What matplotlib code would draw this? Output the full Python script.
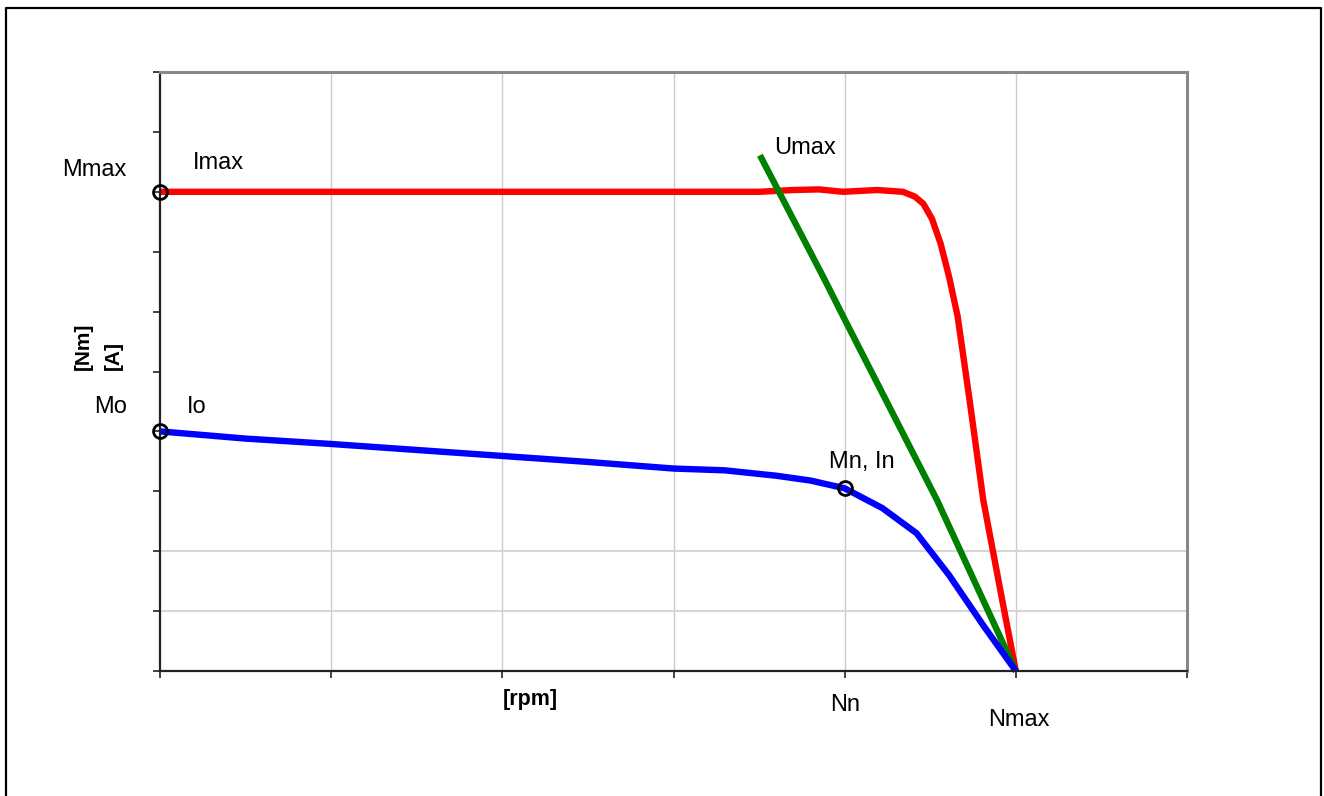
import matplotlib
matplotlib.use("Agg")
import matplotlib.pyplot as plt
from matplotlib.lines import Line2D

plt.rcParams['font.family'] = ['Liberation Sans', 'DejaVu Sans']

# current limit curve (Imax)
red_x = [0.0, 3.50, 3.70, 3.85, 3.99, 4.19, 4.34, 4.41, 4.46, 4.51, 4.56, 4.61, 4.66, 4.73, 4.81, 4.92, 5.0]
red_y = [8.0, 8.00, 8.03, 8.04, 8.00, 8.03, 8.00, 7.92, 7.80, 7.55, 7.14, 6.58, 5.92, 4.52, 2.85, 1.19, 0.0]

# voltage limit (Umax)
green_x = [3.505, 3.88, 4.0, 4.54, 5.0]
green_y = [8.61, 6.55, 5.87, 2.85, 0.0]

# load curve from Mo through Mn to Nmax
blue_x = [0.0, 0.5, 1.0, 1.5, 2.0, 2.5, 3.0, 3.3, 3.6, 3.8, 4.0, 4.22, 4.42, 4.61, 4.81, 5.0]
blue_y = [4.0, 3.88, 3.79, 3.69, 3.59, 3.49, 3.38, 3.35, 3.26, 3.18, 3.05, 2.72, 2.30, 1.60, 0.76, 0.0]

# marked points: Imax, Io, Mn/In
mark_x = [0.0, 0.0, 4.0]
mark_y = [8.0, 4.0, 3.05]

fig = plt.figure(figsize=(13.24, 7.96), dpi=100)
ax = fig.add_axes([160 / 1324, 1 - 671 / 796, (1187 - 160) / 1324, (671 - 72) / 796])

# outer frame (open at the bottom)
frame = Line2D([6 / 1324, 6 / 1324, 1321 / 1324, 1321 / 1324],
               [-0.1, 1 - 8 / 796, 1 - 8 / 796, -0.1],
               transform=fig.transFigure, color='black', lw=1.6)
fig.add_artist(frame)

ax.set_xlim(0, 6)
ax.set_ylim(0, 10)
ax.set_xticks(range(7))
ax.set_yticks(range(11))
ax.set_xticklabels([])
ax.set_yticklabels([])
ax.tick_params(direction='out', length=5, width=1.2, color='#222222')

for x in range(1, 6):
    ax.axvline(x, color='#cccccc', lw=1, zorder=0)
for y in (1, 2):
    ax.axhline(y, color='#d6d6d6', lw=1.5, zorder=0)

ax.spines['left'].set_color('#222222')
ax.spines['bottom'].set_color('#222222')
ax.spines['left'].set_linewidth(1.6)
ax.spines['bottom'].set_linewidth(1.6)
ax.spines['top'].set_color('#888888')
ax.spines['right'].set_color('#888888')
ax.spines['top'].set_linewidth(2.2)
ax.spines['right'].set_linewidth(2.2)

ax.plot(red_x, red_y, color='#ff0000', lw=4.6, solid_capstyle='butt',
        solid_joinstyle='round', clip_on=False)
ax.plot(green_x, green_y, color='#008000', lw=4.6, solid_capstyle='butt',
        solid_joinstyle='round', clip_on=False)
ax.plot(blue_x, blue_y, color='#0000ff', lw=4.6, solid_capstyle='butt',
        solid_joinstyle='round', clip_on=False)
ax.plot(mark_x, mark_y, 'o', ms=10, mfc='none', mec='black', mew=2, clip_on=False, zorder=5)

fs = 17
ax.text(-0.57, 8.36, 'Mmax', fontsize=fs, ha='left', va='center')
ax.text(0.19, 8.48, 'Imax', fontsize=fs, ha='left', va='center')
ax.text(-0.19, 4.41, 'Mo', fontsize=fs, ha='right', va='center')
ax.text(0.158, 4.41, 'Io', fontsize=fs, ha='left', va='center')
ax.text(3.59, 8.73, 'Umax', fontsize=fs, ha='left', va='center')
ax.text(3.91, 3.49, 'Mn, In', fontsize=fs, ha='left', va='center')
ax.text(4.0, -0.57, 'Nn', fontsize=fs, ha='center', va='center')
ax.text(5.02, -0.82, 'Nmax', fontsize=fs, ha='center', va='center')
ax.text(2.0, -0.48, '[rpm]', fontsize=15.5, fontweight='bold', ha='left', va='center')

fig.text(83 / 1324, 1 - 370 / 796, '[Nm]', fontsize=15, fontweight='bold',
         rotation=90, ha='center', va='bottom')
fig.text(113 / 1324, 1 - 370 / 796, '[A]', fontsize=15, fontweight='bold',
         rotation=90, ha='center', va='bottom')

fig.savefig('out.png', dpi=100)
